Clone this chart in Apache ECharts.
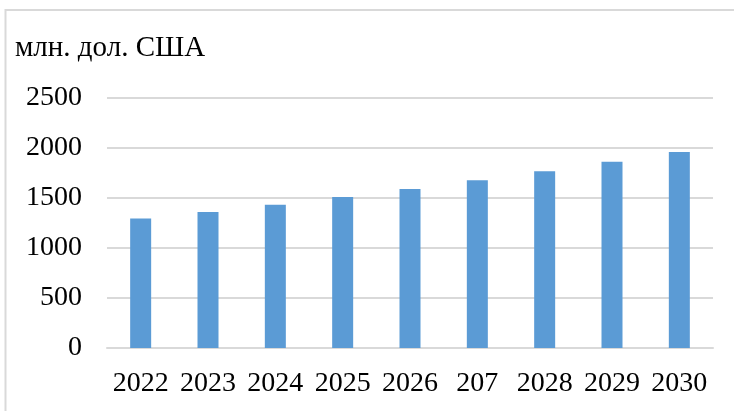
<!DOCTYPE html>
<html>
<head>
<meta charset="utf-8">
<script src="https://cdn.jsdelivr.net/npm/echarts@6/dist/echarts.min.js"></script>
<style>
  html, body { margin: 0; padding: 0; background: #fff; }
  #chart { width: 734px; height: 411px; }
</style>
</head>
<body>
<div id="chart"></div>
<script>
// данные
var years = ['2022', '2023', '2024', '2025', '2026', '207', '2028', '2029', '2030'];
var values = [1295, 1360, 1433, 1510, 1590, 1677, 1767, 1863, 1960];
var unitLabel = 'млн. дол. США';

var myChart = echarts.init(document.getElementById('chart'));

var option = {
    backgroundColor: '#fff',
    animation: false,
    textStyle: {
        fontFamily: '"Liberation Serif", "Times New Roman", serif'
    },
    title: {
        text: unitLabel,
        left: 10,
        top: 29,
        textStyle: {
            fontFamily: '"Liberation Serif", "Times New Roman", serif',
            fontWeight: 'normal',
            fontSize: 29,
            color: '#000'
        }
    },
    // рамка слева и сверху
    graphic: [
        {
            type: 'polyline',
            shape: { points: [[5.5, 411], [5.5, 10], [734, 10]] },
            style: { stroke: '#d9d9d9', lineWidth: 2, fill: null },
            silent: true
        }
    ],
    grid: {
        left: 107,
        right: 21,
        top: 98,
        bottom: 63
    },
    xAxis: {
        type: 'category',
        data: years,
        axisLine: {
            show: true,
            lineStyle: { color: '#d9d9d9', width: 2 }
        },
        axisTick: { show: false },
        axisLabel: {
            interval: 0,
            margin: 22,
            fontSize: 28,
            color: '#000'
        }
    },
    yAxis: {
        type: 'value',
        min: 0,
        max: 2500,
        interval: 500,
        axisLine: { show: false },
        axisTick: { show: false },
        splitLine: {
            lineStyle: { color: '#d9d9d9', width: 2 }
        },
        axisLabel: {
            margin: 25,
            fontSize: 28,
            color: '#000',
            formatter: function (v) { return String(v); }
        }
    },
    series: [
        {
            type: 'bar',
            data: values,
            barWidth: 21,
            itemStyle: { color: '#5b9bd5' }
        }
    ]
};

myChart.setOption(option);
</script>
</body>
</html>
